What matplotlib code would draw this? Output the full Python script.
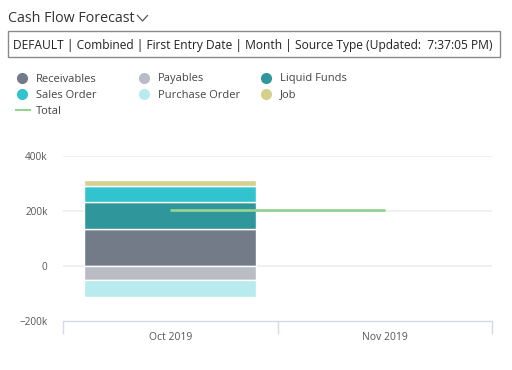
import matplotlib
matplotlib.use("Agg")
import matplotlib.pyplot as plt
from matplotlib.patches import Rectangle
from matplotlib.lines import Line2D
import numpy as np

plt.rcParams['font.family'] = ['Open Sans', 'DejaVu Sans']

categories = ["Oct 2019", "Nov 2019"]
receivables = [134000, 0]
payables = [-51000, 0]
liquid_funds = [97000, 0]
sales_order = [61000, 0]
purchase_order = [-62000, 0]
job = [22000, 0]
total = [204000, 204000]
ytick_vals = [-200000, 0, 200000, 400000]
ytick_labels = ["\u2212200k", "0", "200k", "400k"]

colors = {
    "Receivables": "#727b87",
    "Payables": "#b9bcc5",
    "Liquid Funds": "#2f979b",
    "Sales Order": "#32c4ce",
    "Purchase Order": "#b8ebee",
    "Job": "#d4d18f",
    "Total": "#93d393",
}

W, H = 512, 370
fig = plt.figure(figsize=(W / 100, H / 100), dpi=100)

def fx(px):
    return px / W

def fy(py):
    return 1 - py / H

ax = fig.add_axes([fx(63), fy(321), fx(492) - fx(63), fy(156) - fy(321)])
x = np.arange(len(categories))
bw = 0.8
ek = dict(edgecolor="white", linewidth=1.0, zorder=3)

def stack(series, bottom):
    for name, vals in series:
        v = np.array(vals, dtype=float)
        m = v != 0
        ax.bar(x[m], v[m], bw, bottom=bottom[m], color=colors[name], **ek)
        bottom = bottom + v
    return bottom

stack([("Receivables", receivables), ("Liquid Funds", liquid_funds),
       ("Sales Order", sales_order), ("Job", job)], np.zeros(len(categories)))
stack([("Payables", payables), ("Purchase Order", purchase_order)], np.zeros(len(categories)))

ax.plot(x, total, color=colors["Total"], linewidth=2, zorder=4, solid_capstyle="butt")

ax.set_xlim(-0.5, len(categories) - 0.5)
ax.set_ylim(-200000, 400000)
ax.set_yticks(ytick_vals)
ax.set_yticklabels(ytick_labels)
for v in ytick_vals[1:]:
    ax.axhline(v, color="#eeeeee", linewidth=1.2, zorder=1)
for s in ["top", "right", "left"]:
    ax.spines[s].set_visible(False)
ax.spines["bottom"].set_color("#d3dae6")
ax.spines["bottom"].set_linewidth(1)
ax.tick_params(axis="y", length=0, pad=11, labelsize=7.2, labelcolor="#555555")
ax.set_xticks([-0.5, 0.5, 1.5], minor=False)
ax.set_xticklabels(["", "", ""])
ax.tick_params(axis="x", which="major", length=9, color="#d3dae6", width=1)
ax.set_xticks(x, minor=True)
ax.set_xticklabels(categories, minor=True)
ax.tick_params(axis="x", which="minor", length=0, pad=8, labelsize=7.5, labelcolor="#555555")

# Header
fig.text(fx(8), fy(18), "Cash Flow Forecast", fontsize=10.3, color="#333333", va="center", ha="left")
fig.add_artist(Line2D([fx(137.5), fx(142.5), fx(147.5)], [fy(15.5), fy(21), fy(15.5)],
                      color="#555555", linewidth=0.9, transform=fig.transFigure))
fig.patches.append(Rectangle((fx(8), fy(57)), fx(500) - fx(8), fy(31) - fy(57),
                             transform=fig.transFigure, fill=False, edgecolor="#8a8a8a", linewidth=1))
fig.text(fx(13), fy(45), "DEFAULT | Combined | First Entry Date | Month | Source Type (Updated:  7:37:05 PM)",
         fontsize=8.65, color="#222222", va="center", ha="left")

# Legend
legend_items = [
    ("Receivables", 22, 78), ("Payables", 144, 78), ("Liquid Funds", 266, 78),
    ("Sales Order", 22, 94), ("Purchase Order", 144, 94), ("Job", 266, 94),
]
for name, px, py in legend_items:
    fig.add_artist(Line2D([fx(px)], [fy(py)], marker="o", markersize=7, color=colors[name],
                          linestyle="none", transform=fig.transFigure))
    fig.text(fx(px + 14), fy(py + 1), name, fontsize=8, color="#444444", va="center", ha="left")
fig.add_artist(Line2D([fx(16), fx(30)], [fy(110), fy(110)], color=colors["Total"], linewidth=1.5,
                      transform=fig.transFigure))
fig.text(fx(36), fy(111), "Total", fontsize=8, color="#444444", va="center", ha="left")

fig.savefig("out.png", dpi=100)
